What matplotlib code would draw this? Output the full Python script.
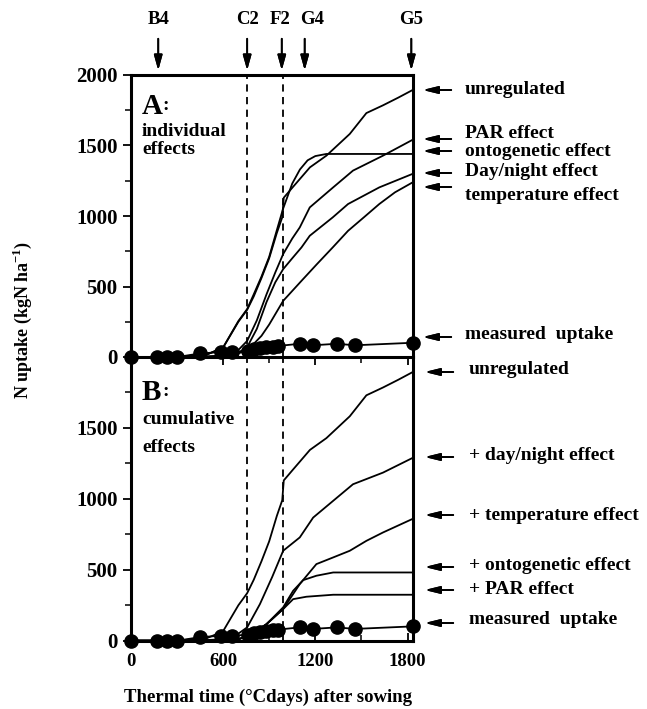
import matplotlib
matplotlib.use("Agg")
import matplotlib.pyplot as plt
from matplotlib.ticker import MultipleLocator

plt.rcParams['font.family'] = ['Liberation Serif', 'DejaVu Serif']
plt.rcParams['font.weight'] = 'bold'
plt.rcParams['mathtext.fontset'] = 'custom'
plt.rcParams['mathtext.rm'] = 'Liberation Serif:bold'
plt.rcParams['mathtext.bf'] = 'Liberation Serif:bold'

# thermal time of stages (°Cdays)
stage_names = ['B4', 'C2', 'F2', 'G4', 'G5']
stage_x = [179, 757, 982, 1131, 1824]
dashed_x = [757, 991]

# measured uptake (both panels)
meas_x = [0, 173, 238, 303, 450, 590, 656, 763, 800, 840, 882, 924, 957, 1099, 1185, 1341, 1456, 1834]
meas_y = [0, 0, 0, 0, 25, 35, 35, 42, 55, 62, 70, 72, 78, 94, 83, 94, 83, 101]

# unregulated (both panels)
unreg_x = [0, 300, 500, 600, 700, 757, 800, 850, 900, 950, 985, 995, 1050, 1100, 1165, 1272, 1424, 1532, 1640, 1740, 1835]
unreg_y = [0, 0, 20, 66, 250, 335, 430, 560, 700, 880, 990, 1130, 1200, 1263, 1345, 1428, 1582, 1730, 1785, 1840, 1895]

# panel A: individual effects
onto_x = [0, 300, 500, 600, 700, 757, 800, 850, 900, 950, 990, 1050, 1100, 1150, 1200, 1272, 1835]
onto_y = [0, 0, 20, 66, 255, 340, 445, 570, 710, 900, 1050, 1230, 1330, 1395, 1425, 1440, 1440]
par_x = [0, 400, 600, 700, 757, 820, 883, 940, 991, 1050, 1099, 1164, 1316, 1445, 1640, 1835]
par_y = [0, 0, 10, 50, 114, 260, 445, 600, 730, 840, 919, 1061, 1203, 1322, 1428, 1542]
dn_x = [0, 400, 600, 700, 757, 820, 883, 940, 991, 1050, 1110, 1164, 1313, 1413, 1616, 1835]
dn_y = [0, 0, 5, 30, 70, 200, 390, 530, 623, 700, 777, 860, 990, 1085, 1203, 1300]
temp_x = [0, 500, 650, 757, 850, 900, 991, 1110, 1210, 1313, 1413, 1515, 1616, 1718, 1835]
temp_y = [0, 0, 10, 45, 150, 230, 398, 540, 658, 777, 895, 990, 1085, 1168, 1240]

# panel B: cumulative effects
cdn_x = [0, 400, 600, 700, 757, 840, 920, 991, 1099, 1186, 1316, 1445, 1640, 1835]
cdn_y = [0, 0, 10, 50, 94, 258, 450, 634, 728, 868, 986, 1103, 1185, 1290]
ctemp_x = [0, 600, 700, 800, 883, 991, 1099, 1207, 1316, 1424, 1532, 1640, 1835]
ctemp_y = [0, 0, 10, 50, 117, 223, 399, 540, 587, 634, 704, 763, 860]
conto_x = [0, 600, 700, 800, 883, 991, 1056, 1121, 1207, 1316, 1835]
conto_y = [0, 0, 10, 50, 117, 235, 352, 427, 458, 481, 481]
cpar_x = [0, 600, 700, 800, 883, 991, 1056, 1142, 1316, 1835]
cpar_y = [0, 0, 10, 50, 117, 223, 293, 310, 324, 324]

W, H = 647, 709
fig = plt.figure(figsize=(W / 100, H / 100), dpi=100)


def fx(px):
    return px / W


def fy(py):
    return 1 - py / H


axB = fig.add_axes([fx(130.7), fy(640.7), fx(413) - fx(130.7), fy(357) - fy(640.7)])
axA = fig.add_axes([fx(130.7), fy(357), fx(413) - fx(130.7), fy(75) - fy(357)])
axA.patch.set_visible(False)
axB.patch.set_visible(False)

for ax in (axA, axB):
    ax.set_xlim(0, 1835)
    ax.set_ylim(0, 2000)
    for s in ax.spines.values():
        s.set_linewidth(2.2)
    for x in dashed_x:
        ax.axvline(x, color='k', ls=(0, (4, 3)), lw=1.3)
    ax.plot(unreg_x, unreg_y, 'k-', lw=1.3)
    ax.plot(meas_x, meas_y, 'k-', lw=1.3, marker='o', ms=9.5, clip_on=False, zorder=5)
    ax.xaxis.set_major_locator(MultipleLocator(600))
    ax.xaxis.set_minor_locator(MultipleLocator(300))
    ax.yaxis.set_major_locator(MultipleLocator(500))
    ax.yaxis.set_minor_locator(MultipleLocator(250))
    ax.tick_params(axis='y', which='major', direction='out', length=6, width=1.3, labelsize=15, right=False)
    ax.tick_params(axis='y', which='minor', direction='out', length=4, width=1.1)
    ax.tick_params(axis='x', which='major', direction='in', length=6, width=1.3, labelsize=13.5, pad=9)
    ax.tick_params(axis='x', which='minor', direction='in', length=4, width=1.1)

axA.plot(onto_x, onto_y, 'k-', lw=1.3)
axA.plot(par_x, par_y, 'k-', lw=1.3)
axA.plot(dn_x, dn_y, 'k-', lw=1.3)
axA.plot(temp_x, temp_y, 'k-', lw=1.3)
axA.tick_params(axis='x', which='both', direction='out', labelbottom=False)

axB.plot(cdn_x, cdn_y, 'k-', lw=1.3)
axB.plot(ctemp_x, ctemp_y, 'k-', lw=1.3)
axB.plot(conto_x, conto_y, 'k-', lw=1.3)
axB.plot(cpar_x, cpar_y, 'k-', lw=1.3)
axB.spines['top'].set_visible(False)
axB.set_yticks([0, 500, 1000, 1500])

# panel titles
fig.text(fx(142), fy(107), 'A', fontsize=21, va='center', ha='left')
fig.text(fx(162), fy(106), ':', fontsize=14, va='center', ha='left')
fig.text(fx(142), fy(132), 'individual', fontsize=14, va='center', ha='left')
fig.text(fx(142), fy(150), 'effects', fontsize=14, va='center', ha='left')
fig.text(fx(142), fy(392), 'B', fontsize=21, va='center', ha='left')
fig.text(fx(162), fy(391), ':', fontsize=14, va='center', ha='left')
fig.text(fx(142), fy(419), 'cumulative', fontsize=14, va='center', ha='left')
fig.text(fx(142), fy(448), 'effects', fontsize=14, va='center', ha='left')

# stage arrows on top; labels sit slightly apart where crowded
label_shift = [0, 0, -2, 7, 0]
for name, x, dx in zip(stage_names, stage_x, label_shift):
    px = 130.7 + x * (413 - 130.7) / 1835
    fig.text(fx(px + dx), fy(20), name, fontsize=13.5, ha='center', va='center')
    fig.add_artist(plt.annotate('', xy=(fx(px), fy(73)), xytext=(fx(px), fy(36)),
                                xycoords='figure fraction',
                                arrowprops=dict(arrowstyle='-|>,head_length=0.9,head_width=0.25',
                                                color='k', lw=1.3)))

# right-hand labels: (text y, arrow y)
labA = ['unregulated', 'PAR effect', 'ontogenetic effect', 'Day/night effect',
        'temperature effect', 'measured  uptake']
labA_ty = [90, 134, 151, 172, 195, 335]
labA_ay = [90, 139, 151, 173, 187, 337]
labB = ['unregulated', '+ day/night effect', '+ temperature effect',
        '+ ontogenetic effect', '+ PAR effect', 'measured  uptake']
labB_ty = [370, 455, 515, 565, 590, 620]
labB_ay = [372, 457, 515, 567, 590, 623]

for labels, tys, ays, tx, ax0, ax1 in [(labA, labA_ty, labA_ay, 465, 454, 420),
                                       (labB, labB_ty, labB_ay, 469, 456, 422)]:
    for lab, ty, ay in zip(labels, tys, ays):
        fig.text(fx(tx), fy(ty), lab, fontsize=14, ha='left', va='center')
        fig.add_artist(plt.annotate('', xy=(fx(ax1), fy(ay)), xytext=(fx(ax0), fy(ay)),
                                    xycoords='figure fraction',
                                    arrowprops=dict(arrowstyle='-|>,head_length=0.9,head_width=0.22',
                                                    color='k', lw=1.3)))

fig.text(fx(22), fy(320), 'N uptake (kgN ha$^{-1}$)', rotation=90,
         fontsize=13, ha='center', va='center')
fig.text(fx(268), fy(697), 'Thermal time (°Cdays) after sowing', fontsize=13.5,
         ha='center', va='center')

fig.savefig('out.png', dpi=100)
